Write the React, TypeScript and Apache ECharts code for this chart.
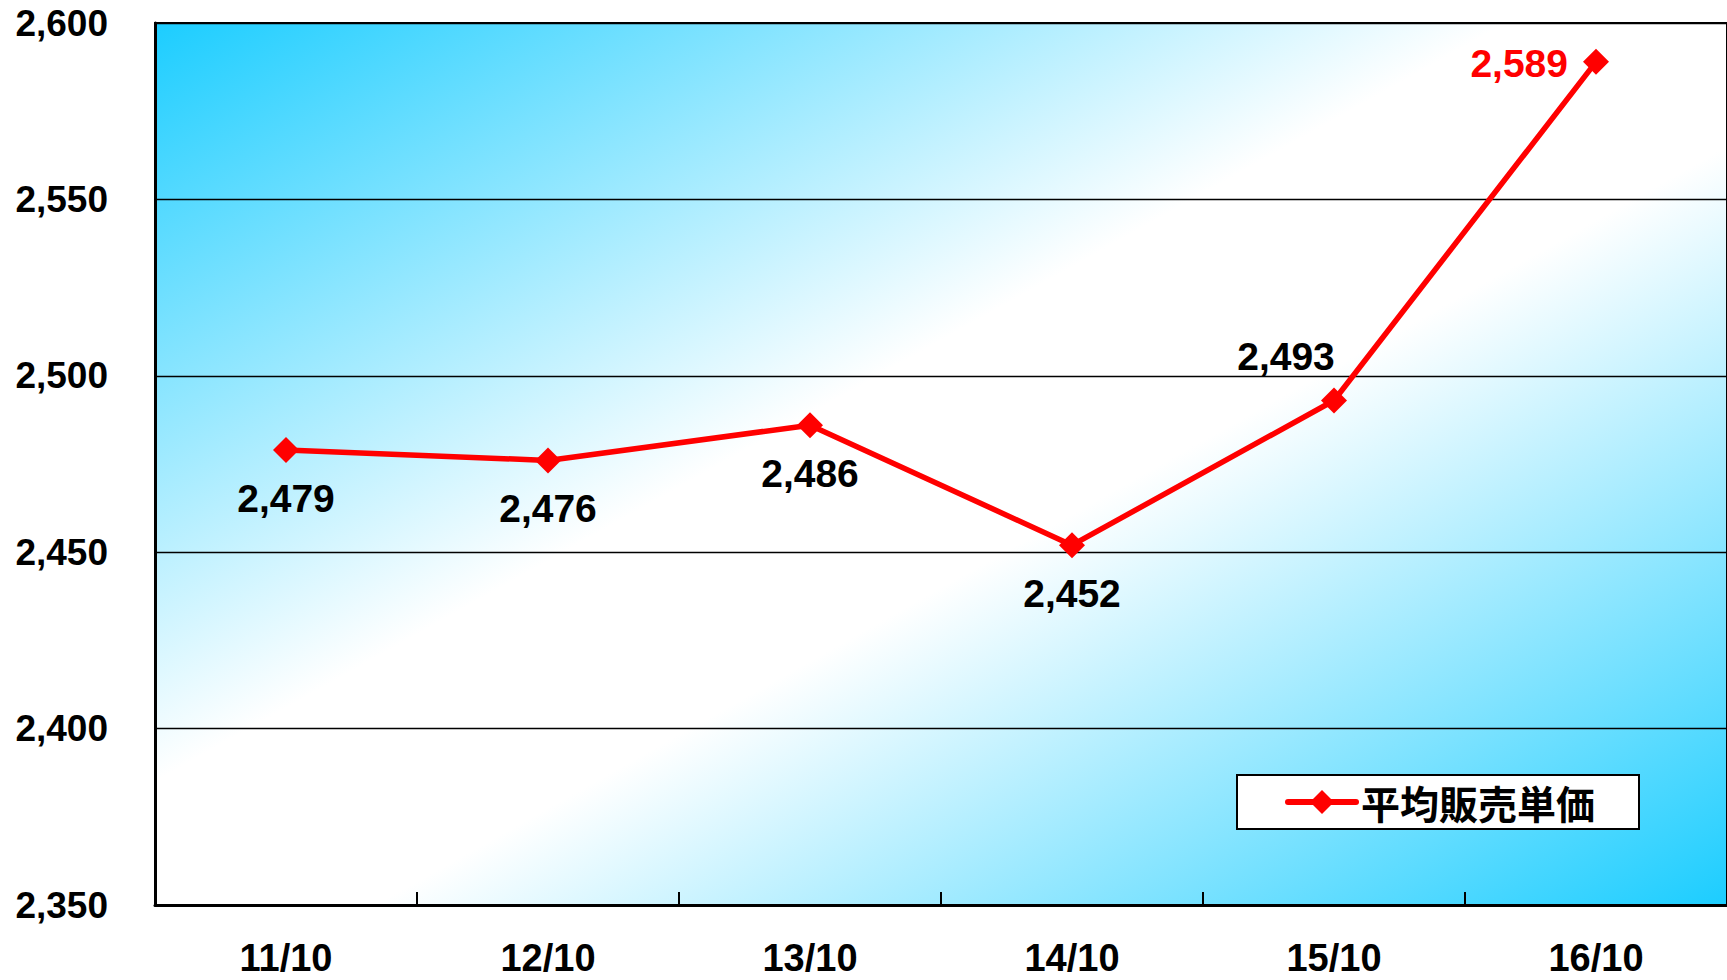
import React, { useEffect, useRef } from "react";
import * as echarts from "echarts";

// Average selling price by fiscal period (October of each year)
const categories: string[] = ["11/10", "12/10", "13/10", "14/10", "15/10", "16/10"];
const avgPrice: number[] = [2479, 2476, 2486, 2452, 2493, 2589];
const seriesName = "平均販売単価";
const yMin = 2350;
const yMax = 2600;
const yStep = 50;

const CJK_FONT = '"Noto Sans CJK JP", "Noto Sans", sans-serif';
const NUM_FONT = '"Liberation Sans", Arial, sans-serif';

const fmt = (v: number) => v.toLocaleString("en-US");

export default function App() {
  const ref = useRef<HTMLDivElement>(null);

  useEffect(() => {
    if (!ref.current) return;
    const chart = echarts.init(ref.current, null, { renderer: "svg" });

    const n = avgPrice.length;
    const data = avgPrice.map((v, i) => {
      let label: any = { position: "bottom", distance: 16 };
      if (i === n - 2) label = { position: "top", distance: 11, offset: [-48, 0] };
      if (i === n - 1) label = { position: "left", distance: 15, color: "#ff0000", offset: [0, 2] };
      return { value: v, label };
    });

    chart.setOption({
      animation: false,
      backgroundColor: "#ffffff",
      grid: {
        left: 155,
        right: -9,
        top: 23,
        bottom: 75,
        show: true,
        borderColor: "#000000",
        borderWidth: 2,
        // diagonal fill: cyan corners, pale band from bottom-left to top-right
        backgroundColor: {
          type: "linear",
          x: 0,
          y: 0,
          x2: 1,
          y2: 1,
          colorStops: [
            { offset: 0, color: "#1ccdff" },
            { offset: 0.43, color: "#ffffff" },
            { offset: 0.57, color: "#ffffff" },
            { offset: 1, color: "#1ccdff" },
          ],
        },
      },
      legend: {
        data: [seriesName],
        left: 1237,
        top: 775,
        orient: "horizontal",
        backgroundColor: "#ffffff",
        borderColor: "#000000",
        borderWidth: 2,
        padding: [7, 44, 7, 48],
        itemWidth: 68,
        itemHeight: 30,
        itemGap: 10,
        lineStyle: { width: 6, cap: "round" },
        textStyle: {
          fontFamily: CJK_FONT,
          fontSize: 39,
          lineHeight: 40,
          fontWeight: "bold",
          color: "#000000",
        },
      },
      xAxis: {
        type: "category",
        data: categories,
        boundaryGap: true,
        axisLine: { show: true, lineStyle: { color: "#000000", width: 3 } },
        axisTick: { show: true, inside: true, length: 13, lineStyle: { color: "#000000", width: 2 } },
        axisLabel: {
          margin: 34,
          fontFamily: NUM_FONT,
          fontSize: 38,
          lineHeight: 38,
          fontWeight: "bold",
          color: "#000000",
        },
        splitLine: { show: false },
      },
      yAxis: {
        type: "value",
        min: yMin,
        max: yMax,
        interval: yStep,
        axisLine: { show: true, lineStyle: { color: "#000000", width: 3 } },
        axisTick: { show: false },
        axisLabel: {
          margin: 47,
          fontFamily: NUM_FONT,
          fontSize: 37,
          lineHeight: 37,
          fontWeight: "bold",
          color: "#000000",
          align: "right",
          formatter: (v: number) => fmt(v),
        },
        splitLine: { show: true, lineStyle: { color: "#000000", width: 1.4 } },
      },
      series: [
        {
          name: seriesName,
          type: "line",
          data,
          symbol: "diamond",
          symbolSize: 26,
          itemStyle: { color: "#ff0000" },
          lineStyle: { color: "#ff0000", width: 5.5 },
          label: {
            show: true,
            fontFamily: NUM_FONT,
            fontSize: 39,
            lineHeight: 39,
            fontWeight: "bold",
            color: "#000000",
            formatter: (p: any) => fmt(p.value),
          },
          z: 5,
        },
      ],
    });

    return () => chart.dispose();
  }, []);

  return (
    <div
      ref={ref}
      style={{ position: "fixed", left: 0, top: 0, width: 1727, height: 980 }}
    />
  );
}
